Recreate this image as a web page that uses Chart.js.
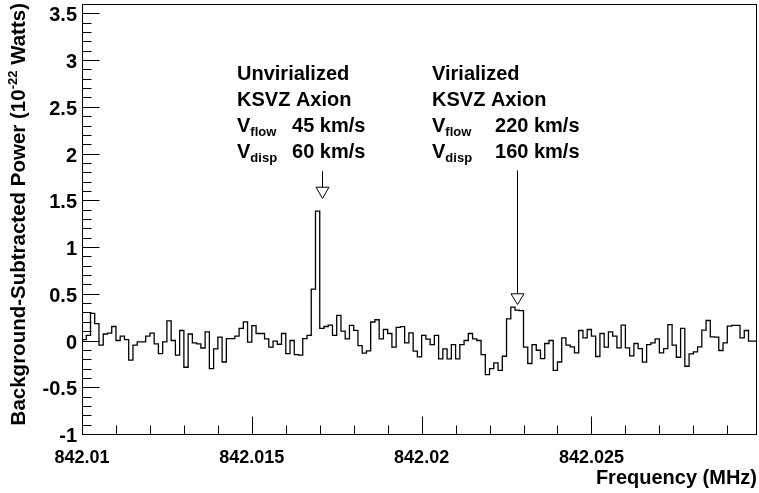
<!DOCTYPE html>
<html>
<head>
<meta charset="utf-8">
<script src="https://cdn.jsdelivr.net/npm/chart.js@4.4.1/dist/chart.umd.min.js"></script>
<style>
  html, body { margin: 0; padding: 0; background: #fff; }
  #wrap { width: 759px; height: 493px; }
</style>
</head>
<body>
<div id="wrap"><canvas id="chart" width="759" height="493"></canvas></div>
<script>
// histogram bins (MHz) and background-subtracted power (1e-22 W)
const binStart = 842.01;
const binWidth = 0.000125;
const power = [
  -0.08, 0.01, 0.055, 0.29, 0.18, -0.05, 0.07, 0.08, 0.15, 0.0,
  0.046, 0.01, -0.21, -0.05, -0.015, -0.015, 0.046, 0.08, -0.036, -0.14,
  -0.015, 0.21, 0.0, -0.157, 0.107, -0.286, 0.07, -0.025, -0.036, -0.08,
  0.093, -0.30, -0.09, 0.036, -0.23, 0.02, 0.02, 0.046, 0.13, 0.2,
  -0.018, 0.16, 0.075, 0.075, 0.018, -0.07, -0.007, -0.04, 0.075, -0.14,
  0.0, -0.15, -0.157, 0.02, 0.055, 0.55, 1.385, 0.13, 0.15, 0.165,
  0.055, 0.27, 0.1, 0.018, 0.163, 0.108, -0.055, -0.135, -0.11, 0.198,
  0.222, 0.018, 0.118, 0.075, -0.07, 0.14, 0.148, -0.025, 0.082, -0.114,
  -0.175, 0.054, 0.015, -0.043, 0.055, -0.196, -0.09, -0.196, -0.043, -0.196,
  -0.043, 0.0, 0.075, 0.018, 0.0, -0.15, -0.364, -0.30, -0.24, -0.32,
  -0.168, 0.232, 0.357, 0.325, 0.32, -0.07, -0.246, -0.043, -0.104, -0.193,
  -0.032, 0.0, -0.32, -0.23, 0.029, -0.05, -0.068, -0.132, 0.107, 0.029,
  0.118, 0.046, -0.171, 0.075, -0.071, 0.093, 0.046, -0.079, 0.164, -0.079,
  -0.164, -0.032, -0.086, -0.232, -0.043, -0.025, 0.018, -0.132, -0.086, 0.171,
  -0.05, -0.179, 0.129, -0.275, -0.143, -0.121, -0.068, 0.111, 0.214, 0.039,
  0.036, -0.107, -0.025, 0.154, 0.161, 0.161, 0.029, 0.107, -0.007
];

const xTicks = [842.01, 842.015, 842.02, 842.025];
const xTickLabels = ['842.01', '842.015', '842.02', '842.025'];
const yTicks = [-1, -0.5, 0, 0.5, 1, 1.5, 2, 2.5, 3, 3.5];
const yTickLabels = ['-1', '-0.5', '0', '0.5', '1', '1.5', '2', '2.5', '3', '3.5'];
const yMin = -1;
const yMax = 3.6;
const xMax = binStart + power.length * binWidth;

// arrow annotations: frequency, top of shaft, top of head, tip (data units)
const arrowFreq = [842.01706, 842.0228];
const arrowTop = [1.81, 1.82];
const arrowHead = [1.64, 0.50];
const arrowTip = [1.52, 0.385];

const labelBlocks = [
  { freq: 842.014564, lines: ['Unvirialized', 'KSVZ Axion'], flow: '45 km/s', disp: '60 km/s', gap: 55 },
  { freq: 842.020306, lines: ['Virialized', 'KSVZ Axion'], flow: '220 km/s', disp: '160 km/s', gap: 63 }
];

const FONT = '"Liberation Sans", Arial, Helvetica, sans-serif';

const points = power.map((v, i) => ({ x: binStart + i * binWidth, y: v }));
points.push({ x: xMax, y: power[power.length - 1] });

const rootStyle = {
  id: 'rootStyle',
  afterDraw(chart) {
    const ctx = chart.ctx;
    const area = chart.chartArea;
    const xs = chart.scales.x;
    const ys = chart.scales.y;
    ctx.save();
    ctx.strokeStyle = '#000';
    ctx.fillStyle = '#000';
    ctx.lineWidth = 1;

    // frame
    ctx.strokeRect(Math.round(area.left) + 0.5, Math.round(area.top) + 0.5,
      Math.round(area.right - area.left) - 1, Math.round(area.bottom - area.top));

    const L = Math.round(area.left) + 0.5;
    const B = Math.round(area.bottom) + 0.5;

    // y ticks (inward)
    ctx.beginPath();
    for (let v = yMin; v <= yMax + 1e-9; v += 0.1) {
      const y = Math.round(ys.getPixelForValue(v)) + 0.5;
      const major = Math.abs(v * 2 - Math.round(v * 2)) < 1e-6;
      ctx.moveTo(L, y);
      ctx.lineTo(L + (major ? 17 : 9), y);
    }
    // x ticks (inward)
    for (let v = binStart; v <= xMax + 1e-9; v += 0.001) {
      const x = Math.round(xs.getPixelForValue(v)) + 0.5;
      const k = Math.round((v - binStart) / 0.001);
      const major = k % 5 === 0;
      ctx.moveTo(x, B);
      ctx.lineTo(x, B - (major ? 18 : 9));
    }
    ctx.stroke();

    // y tick labels
    ctx.font = 'bold 20px ' + FONT;
    ctx.textAlign = 'right';
    ctx.textBaseline = 'middle';
    yTicks.forEach((v, i) => {
      ctx.fillText(yTickLabels[i], area.left - 5, ys.getPixelForValue(v) + 2.5);
    });

    // x tick labels
    ctx.font = 'bold 18px ' + FONT;
    ctx.textAlign = 'center';
    ctx.textBaseline = 'alphabetic';
    xTicks.forEach((v, i) => {
      ctx.fillText(xTickLabels[i], xs.getPixelForValue(v), 463);
    });

    // x title
    ctx.font = 'bold 20px ' + FONT;
    ctx.textAlign = 'right';
    ctx.fillText('Frequency (MHz)', area.right, 484);

    // y title with superscript
    ctx.save();
    ctx.translate(25, 3);
    ctx.rotate(-Math.PI / 2);
    ctx.textAlign = 'left';
    const p1 = 'Background-Subtracted Power (10';
    const sup = '-22';
    const p2 = ' Watts)';
    ctx.font = 'bold 20.5px ' + FONT;
    const w1 = ctx.measureText(p1).width;
    const w3 = ctx.measureText(p2).width;
    ctx.font = 'bold 13px ' + FONT;
    const w2 = ctx.measureText(sup).width;
    let pos = -(w1 + w2 + w3);
    ctx.font = 'bold 20.5px ' + FONT;
    ctx.fillText(p1, pos, 0);
    pos += w1;
    ctx.font = 'bold 13px ' + FONT;
    ctx.fillText(sup, pos, -8);
    pos += w2;
    ctx.font = 'bold 20.5px ' + FONT;
    ctx.fillText(p2, pos, 0);
    ctx.restore();

    // annotation text
    ctx.textAlign = 'left';
    labelBlocks.forEach(b => {
      const x0 = xs.getPixelForValue(b.freq);
      ctx.font = 'bold 20px ' + FONT;
      ctx.fillText(b.lines[0], x0, 80);
      ctx.fillText(b.lines[1], x0, 106);
      [['flow', b.flow, 132], ['disp', b.disp, 158]].forEach(([sub, txt, y]) => {
        ctx.font = 'bold 20px ' + FONT;
        ctx.fillText('V', x0, y);
        const wv = ctx.measureText('V').width;
        ctx.font = 'bold 13px ' + FONT;
        ctx.fillText(sub, x0 + wv, y + 4);
        ctx.font = 'bold 20px ' + FONT;
        ctx.fillText(txt, x0 + b.gap, y);
      });
    });

    // arrows
    arrowFreq.forEach((f, i) => {
      const x = Math.round(xs.getPixelForValue(f)) + 0.5;
      const yt = ys.getPixelForValue(arrowTop[i]);
      const yh = ys.getPixelForValue(arrowHead[i]);
      const yp = ys.getPixelForValue(arrowTip[i]);
      ctx.beginPath();
      ctx.moveTo(x, yt);
      ctx.lineTo(x, yh);
      ctx.stroke();
      ctx.beginPath();
      ctx.moveTo(x - 6.5, yh);
      ctx.lineTo(x + 6.5, yh);
      ctx.lineTo(x, yp);
      ctx.closePath();
      ctx.fillStyle = '#fff';
      ctx.fill();
      ctx.stroke();
      ctx.fillStyle = '#000';
    });

    ctx.restore();
  }
};

new Chart(document.getElementById('chart'), {
  type: 'line',
  data: {
    datasets: [{
      data: points,
      stepped: 'after',
      borderColor: '#000',
      borderWidth: 1.3,
      pointRadius: 0,
      fill: false
    }]
  },
  options: {
    responsive: false,
    animation: false,
    events: [],
    layout: { padding: { left: 82, right: 2, top: 4, bottom: 59 } },
    scales: {
      x: { type: 'linear', display: false, min: binStart, max: xMax },
      y: { type: 'linear', display: false, min: yMin, max: yMax }
    },
    plugins: { legend: { display: false }, tooltip: { enabled: false } }
  },
  plugins: [rootStyle]
});
</script>
</body>
</html>
